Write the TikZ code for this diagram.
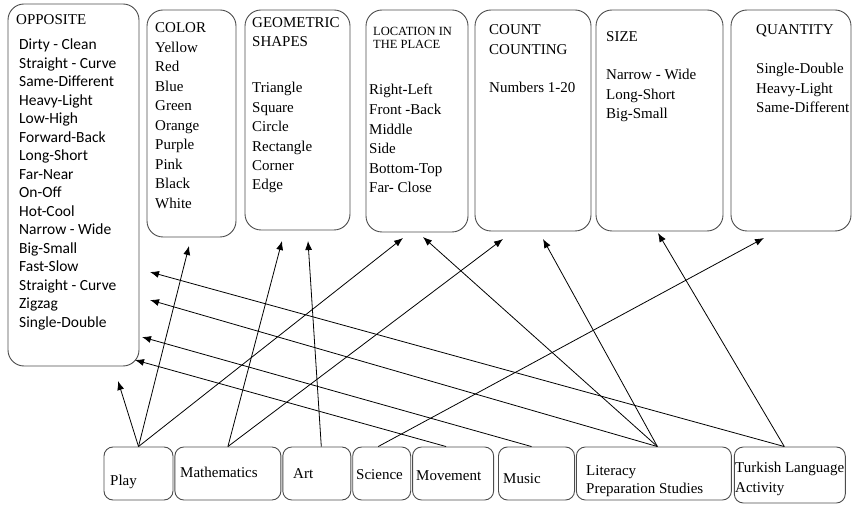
\documentclass[tikz,border=0pt]{standalone}
\usepackage{fontspec}
\setmainfont{Liberation Serif}
\newfontfamily\oppfont{Carlito}
\usepackage{tikz}
\usetikzlibrary{arrows.meta,calc,positioning}

\tikzset{
	catbox/.style={draw=black!70, line width=0.9pt, rounded corners=16pt},
	subjbox/.style={draw=black!70, line width=0.9pt, rounded corners=9pt},
	link/.style={-{Latex[length=9pt,width=7pt]}, line width=0.8pt},
	lbl/.style={anchor=base west, inner sep=0pt, font=\fontsize{15}{18}\selectfont},
	smalllbl/.style={anchor=base west, inner sep=0pt, font=\fontsize{12.5}{14}\selectfont},
	opplbl/.style={anchor=base west, inner sep=0pt, font=\oppfont\fontsize{15.5}{18}\selectfont},
}

\begin{document}
\begin{tikzpicture}[x=1pt,y=-1pt]
		
		\useasboundingbox (0,0) rectangle (855,505);
		
		% categories on top
		\node[catbox, minimum width=131pt, minimum height=362pt] (opposite) at (73.5,185) {};
		
		\node[catbox, minimum width=89pt, minimum height=227pt] (color) at (191.5,123.5) {};
		
		\node[catbox, minimum width=105pt, minimum height=220pt] (geometric) at (297.5,120) {};
		
		\node[catbox, minimum width=102pt, minimum height=222pt] (location) at (417,121) {};
		
		\node[catbox, minimum width=116pt, minimum height=221pt] (count) at (533,120.5) {};
		
		\node[catbox, minimum width=127pt, minimum height=221pt] (size) at (659.5,120.5) {};
		
		\node[catbox, minimum width=120pt, minimum height=221pt] (quantity) at (791,120.5) {};
		
		
		\node[lbl] (opposite_T) at (16,25) {OPPOSITE};
		
		\foreach \w [count=\i from 0] in {Dirty - Clean, Straight - Curve, Same-Different, Heavy-Light, Low-High, Forward-Back, Long-Short, Far-Near, On-Off, Hot-Cool, Narrow - Wide, Big-Small, Fast-Slow, Straight - Curve, Zigzag, Single-Double}
			\node[opplbl] (opposite_\i) at (19,50+18.47*\i) {\w};
		
		\foreach \w [count=\i from 0] in {COLOR, Yellow, Red, Blue, Green, Orange, Purple, Pink, Black, White}
			\node[lbl] (color_\i) at (155,33+19.45*\i) {\w};
		
		\node[lbl] (geometric_T1) at (252,28) {GEOMETRIC};
		
		\node[lbl] (geometric_T2) at (252,47) {SHAPES};
		
		\foreach \w [count=\i from 0] in {Triangle, Square, Circle, Rectangle, Corner, Edge}
			\node[lbl] (geometric_\i) at (252,93+19.4*\i) {\w};
		
		\node[smalllbl] (location_T1) at (373,36) {LOCATION IN};
		
		\node[smalllbl] (location_T2) at (373,49) {THE PLACE};
		
		\foreach \w [count=\i from 0] in {Right-Left, Front -Back, Middle, Side, Bottom-Top, Far- Close}
			\node[lbl] (location_\i) at (369,95+19.6*\i) {\w};
		
		\node[lbl] (count_T1) at (489,35) {COUNT};
		
		\node[lbl] (count_T2) at (489,55) {COUNTING};
		
		\node[lbl] (count_0) at (489,93) {Numbers 1-20};
		
		\node[lbl] (size_T) at (606,42) {SIZE};
		
		\foreach \w [count=\i from 0] in {Narrow - Wide, Long-Short, Big-Small}
			\node[lbl] (size_\i) at (606,80+19.5*\i) {\w};
		
		\node[lbl] (quantity_T) at (756,35) {QUANTITY};
		
		\foreach \w [count=\i from 0] in {Single-Double, Heavy-Light, Same-Different}
			\node[lbl] (quantity_\i) at (756,74+19.5*\i) {\w};
		
		
		% activities at the bottom
		\node[subjbox, minimum width=69pt, minimum height=53pt] (play) at (138.5,473.5) {};
		
		\node[subjbox, minimum width=106pt, minimum height=53pt, right=1pt of play] (math) {};
		
		\node[subjbox, minimum width=68pt, minimum height=53pt, right=1pt of math] (art) {};
		
		\node[subjbox, minimum width=58pt, minimum height=53pt, right=1pt of art] (science) {};
		
		\node[subjbox, minimum width=81pt, minimum height=53pt, right=1pt of science] (movement) {};
		
		\node[subjbox, minimum width=76pt, minimum height=53pt, right=4pt of movement] (music) {};
		
		\node[subjbox, minimum width=155pt, minimum height=53pt, right=1pt of music] (literacy) {};
		
		\node[subjbox, minimum width=111pt, minimum height=56pt, anchor=north west] (turkish) at ($(literacy.north east)+(2,0)$) {};
		
		
		\node[lbl] (play_T) at (110,485) {Play};
		
		\node[lbl] (math_T) at (180,477) {Mathematics};
		
		\node[lbl] (art_T) at (293,478) {Art};
		
		\node[lbl] (science_T) at (356,479) {Science};
		
		\node[lbl] (movement_T) at (416,480) {Movement};
		
		\node[lbl] (music_T) at (503,483) {Music};
		
		\node[lbl] (literacy_T1) at (586,475) {Literacy};
		
		\node[lbl] (literacy_T2) at (586,493) {Preparation Studies};
		
		\node[lbl] (turkish_T1) at (735,472) {Turkish Language};
		
		\node[lbl] (turkish_T2) at (735,492) {Activity};
		
		
		% arrow tips
		\coordinate (opposite_P) at (118,381);
		\coordinate (opposite_Mv) at (135,360);
		\coordinate (opposite_Mu) at (142,337);
		\coordinate (opposite_L) at (150,300);
		\coordinate (opposite_Tk) at (150,272);
		\coordinate (color_P) at (189,246);
		\coordinate (geometric_M) at (282,241);
		\coordinate (geometric_A) at (308,241);
		\coordinate (location_P) at (403,238);
		\coordinate (location_L) at (423,237);
		\coordinate (count_M) at (503,239);
		\coordinate (count_L) at (543,239);
		\coordinate (size_Tk) at (658,233);
		\coordinate (quantity_S) at (764,238);
		
		
		\draw [link] (play.north) to (opposite_P);
		
		\draw [link] (play.north) to (color_P);
		
		\draw [link] (play.north) to (location_P);
		
		\draw [link] (math.north) to (geometric_M);
		
		\draw [link] (math.north) to (count_M);
		
		\draw [link] ($(art.north)+(4.5,0)$) to (geometric_A);
		
		\draw [link] ($(science.north)+(-3.5,0)$) to (quantity_S);
		
		\draw [link] ($(movement.north)+(-7,0)$) to (opposite_Mv);
		
		\draw [link] ($(music.north)+(-5,0)$) to (opposite_Mu);
		
		\draw [link] ($(literacy.north)+(3.5,0)$) to (opposite_L);
		
		\draw [link] ($(literacy.north)+(3.5,0)$) to (location_L);
		
		\draw [link] ($(literacy.north)+(3.5,0)$) to (count_L);
		
		\draw [link] ($(turkish.north)+(-5.5,0)$) to (opposite_Tk);
		
		\draw [link] ($(turkish.north)+(-5.5,0)$) to (size_Tk);
		
		
		\end{tikzpicture}
\end{document}
